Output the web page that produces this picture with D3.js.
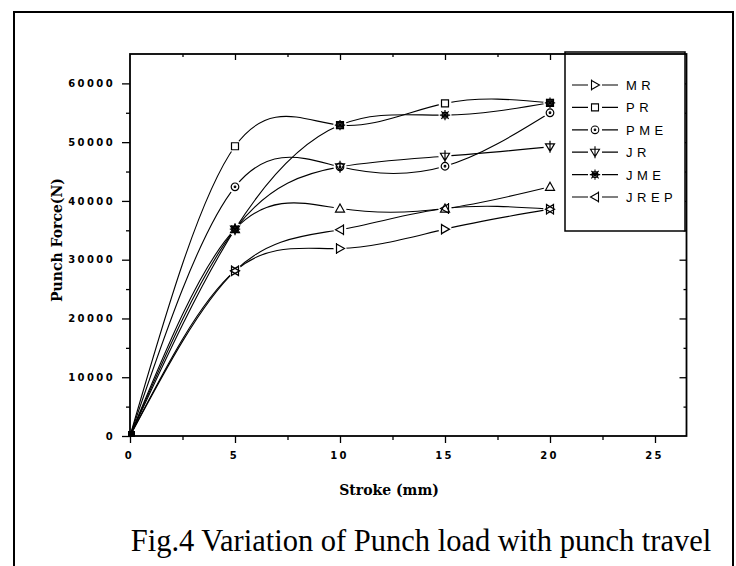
<!DOCTYPE html>
<html>
<head>
<meta charset="utf-8">
<script src="https://cdn.jsdelivr.net/npm/d3@7"></script>
<style>
  body { margin: 0; background: #fff; }
  svg { display: block; }
</style>
</head>
<body>
<div id="vis"></div>
<script>
// stroke positions (mm) and punch force (N) per trial
var strokeMm = [0, 5, 10, 15, 20];
var mr   = [0, 28100, 31900, 35200, 38600];
var pr   = [0, 49300, 52900, 56600, 56700];
var pme  = [0, 42400, 45800, 45900, 55000];
var jr   = [0, 35200, 45800, 47600, 49200];
var jme  = [0, 35200, 52900, 54600, 56700];
var jrep = [0, 28100, 35100, 38700, 38600];
var extra = [0, 35200, 38700, 38700, 42400];   // plotted, not in legend

var xTicks = [0, 5, 10, 15, 20, 25];
var yTicks = [0, 10000, 20000, 30000, 40000, 50000, 60000];

var series = [
  {name: "MR",   values: mr,    sym: "triRight", legend: true},
  {name: "PR",   values: pr,    sym: "square",   legend: true},
  {name: "PME",  values: pme,   sym: "circle",   legend: true},
  {name: "JR",   values: jr,    sym: "triDownPlus", legend: true},
  {name: "JME",  values: jme,   sym: "star",     legend: true},
  {name: "JREP", values: jrep,  sym: "triLeft",  legend: true},
  {name: "",     values: extra, sym: "triUp",    legend: false}
];

var W = 736, H = 566;
var svg = d3.select("#vis").append("svg")
    .attr("width", W)
    .attr("height", H);

var x = d3.scaleLinear().domain([0, 26.5]).range([130, 686.5]);
var y = d3.scaleLinear().domain([0, 65000]).range([436, 54]);

// outer frame
svg.append("rect")
    .attr("x", 14).attr("y", 12)
    .attr("width", 719).attr("height", 620)
    .attr("fill", "none").attr("stroke", "#000").attr("stroke-width", 2);

var tickFont = "'DejaVu Sans', sans-serif";

// axes
var xAxis = g => g
    .attr("transform", `translate(0,${y(0)})`)
    .call(d3.axisBottom(x).tickValues(d3.range(0, 26, 2.5)).tickSize(7).tickPadding(9)
        .tickFormat(d => xTicks.includes(d) ? d : ""))
    .call(g => g.selectAll(".tick line").filter(d => d % 5 !== 0).attr("y2", 4))
    .call(g => g.selectAll(".tick text").attr("dx", -1))
    .call(g => g.select(".domain").remove());

var yAxis = g => g
    .attr("transform", `translate(${x(0)},0)`)
    .call(d3.axisLeft(y).tickValues(d3.range(0, 65000, 5000)).tickSize(8).tickPadding(7)
        .tickFormat(d => yTicks.includes(d) ? d : ""))
    .call(g => g.selectAll(".tick line").filter(d => d % 10000 !== 0).attr("x2", -4))
    .call(g => g.select(".domain").remove());

var xTop = g => g
    .attr("transform", `translate(0,${y.range()[1]})`)
    .call(d3.axisBottom(x).tickValues(d3.range(2.5, 26, 2.5)).tickSize(6).tickFormat(""))
    .call(g => g.selectAll(".tick line").filter(d => d % 5 !== 0).attr("y2", 3))
    .call(g => g.select(".domain").remove());

var yRight = g => g
    .attr("transform", `translate(${x.range()[1]},0)`)
    .call(d3.axisLeft(y).tickValues(d3.range(5000, 65000, 5000)).tickSize(7).tickFormat(""))
    .call(g => g.selectAll(".tick line").filter(d => d % 10000 !== 0).attr("x2", -3))
    .call(g => g.select(".domain").remove());

[xAxis, yAxis, xTop, yRight].forEach(a => {
  svg.append("g").call(a)
    .attr("font-family", tickFont)
    .attr("font-weight", "bold")
    .attr("font-size", 10)
    .attr("letter-spacing", "2.4px")
    .call(g => g.selectAll(".tick line").attr("stroke", "#000").attr("stroke-width", 1.3));
});

// curves
var line = d3.line()
    .x((d, i) => x(strokeMm[i]))
    .y(d => y(d))
    .curve(d3.curveNatural);

svg.append("g").selectAll("path")
  .data(series)
  .join("path")
    .attr("d", d => line(d.values))
    .attr("fill", "none")
    .attr("stroke", "#000")
    .attr("stroke-width", 1.1);

function symbolPath(type) {
  var p = d3.path();
  if (type === "square") {
    p.rect(-3.5, -3.5, 7, 7);
  } else if (type === "circle") {
    p.moveTo(3.8, 0); p.arc(0, 0, 3.8, 0, 2 * Math.PI);
    p.moveTo(0.8, 0); p.arc(0, 0, 0.8, 0, 2 * Math.PI);
  } else if (type === "triUp") {
    p.moveTo(0, -4.5); p.lineTo(4.5, 3.5); p.lineTo(-4.5, 3.5); p.closePath();
  } else if (type === "triRight") {
    p.moveTo(4.5, 0); p.lineTo(-3.5, 4.5); p.lineTo(-3.5, -4.5); p.closePath();
    p.moveTo(-3.5, -5.5); p.lineTo(-3.5, 5.5);
  } else if (type === "triLeft") {
    p.moveTo(-4.5, 0); p.lineTo(3.5, 4.5); p.lineTo(3.5, -4.5); p.closePath();
    p.moveTo(3.5, -5.5); p.lineTo(3.5, 5.5);
  } else if (type === "triDownPlus") {
    p.moveTo(0, 4.5); p.lineTo(4.5, -3); p.lineTo(-4.5, -3); p.closePath();
    p.moveTo(0, -6); p.lineTo(0, 6);
  } else if (type === "star") {
    p.moveTo(3, 0); p.arc(0, 0, 3, 0, 2 * Math.PI);
    for (var k = 0; k < 4; k++) {
      var a = k * Math.PI / 4;
      p.moveTo(5.2 * Math.cos(a), 5.2 * Math.sin(a));
      p.lineTo(-5.2 * Math.cos(a), -5.2 * Math.sin(a));
    }
  }
  return p.toString();
}

// markers: white halo first so curves stop short of each symbol
var pts = [];
series.forEach(s => s.values.forEach((v, i) => {
  if (i > 0) pts.push({x: strokeMm[i], y: v, sym: s.sym});
}));

svg.append("g").selectAll("circle")
  .data(pts)
  .join("circle")
    .attr("cx", d => x(d.x)).attr("cy", d => y(d.y))
    .attr("r", 6.5)
    .attr("fill", "#fff");

svg.append("g").selectAll("path")
  .data(pts)
  .join("path")
    .attr("transform", d => `translate(${x(d.x)},${y(d.y)})`)
    .attr("d", d => symbolPath(d.sym))
    .attr("fill", "none")
    .attr("stroke", "#000")
    .attr("stroke-width", 1.2);

// origin blob
svg.append("rect")
    .attr("x", x(0) - 2).attr("y", y(0) - 5)
    .attr("width", 7).attr("height", 6)
    .attr("fill", "#000");

// legend
var legendItems = series.filter(s => s.legend);
var lg = svg.append("g");
lg.append("rect")
    .attr("x", 565).attr("y", 52)
    .attr("width", 120).attr("height", 179)
    .attr("fill", "#fff").attr("stroke", "#000").attr("stroke-width", 1.5);

var li = lg.selectAll("g.item")
  .data(legendItems)
  .join("g")
    .attr("class", "item")
    .attr("transform", (d, i) => `translate(0,${85 + i * 22.4})`);

li.append("line")
    .attr("x1", 572).attr("x2", 618)
    .attr("stroke", "#000").attr("stroke-width", 1.2);
li.append("rect")
    .attr("x", 588).attr("y", -6).attr("width", 14).attr("height", 12)
    .attr("fill", "#fff");
li.append("path")
    .attr("transform", "translate(595,0)")
    .attr("d", d => symbolPath(d.sym))
    .attr("fill", "none").attr("stroke", "#000").attr("stroke-width", 1.1);
li.append("text")
    .attr("x", 626).attr("y", 5)
    .attr("font-family", "'Liberation Sans', Arial, sans-serif")
    .attr("font-size", 13)
    .attr("letter-spacing", "4.5px")
    .text(d => d.name);

// plot frame drawn on top
svg.append("rect")
    .attr("x", x(0)).attr("y", y.range()[1])
    .attr("width", x.range()[1] - x(0)).attr("height", y(0) - y.range()[1])
    .attr("fill", "none").attr("stroke", "#000").attr("stroke-width", 1.8);

// axis titles
svg.append("text")
    .attr("x", 389).attr("y", 495)
    .attr("text-anchor", "middle")
    .attr("font-family", "'DejaVu Serif', serif")
    .attr("font-weight", "bold")
    .attr("font-size", 14)
    .text("Stroke (mm)");

svg.append("text")
    .attr("transform", "translate(62,240) rotate(-90)")
    .attr("text-anchor", "middle")
    .attr("font-family", "'DejaVu Serif', serif")
    .attr("font-weight", "bold")
    .attr("font-size", 14)
    .text("Punch Force(N)");

// caption
svg.append("text")
    .attr("x", 421).attr("y", 551)
    .attr("text-anchor", "middle")
    .attr("font-family", "'Liberation Serif', 'Times New Roman', serif")
    .attr("font-size", 30.5)
    .text("Fig.4 Variation of Punch load with punch travel");
</script>
</body>
</html>
